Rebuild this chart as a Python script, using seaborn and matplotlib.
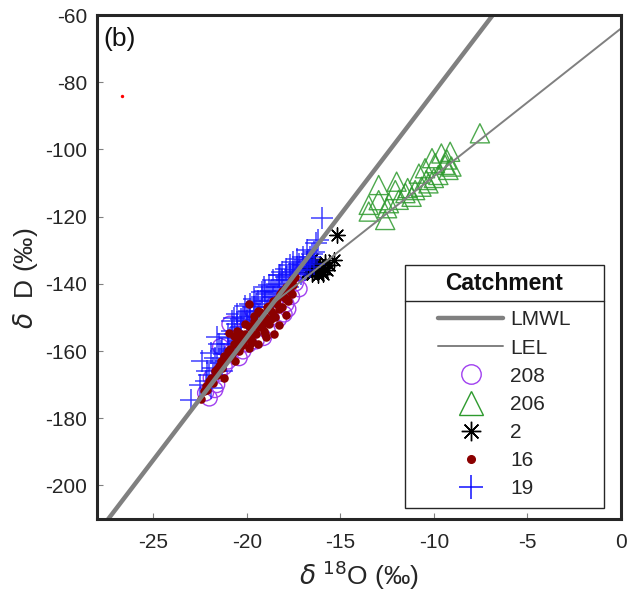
import matplotlib
matplotlib.use('Agg')
import matplotlib.pyplot as plt
import numpy as np
import pandas as pd
import seaborn as sns
from matplotlib.lines import Line2D
from matplotlib.patches import Rectangle

# ---- values ----
# catchment 208 (open circles)
x_208 = [-22.2, -21.9, -21.6, -21.46, -21.2, -21.4, -21.0, -20.6, -20.2, -20.0, -19.7, -19.5,
         -19.3, -18.9, -18.7, -18.5, -18.0, -17.9, -17.6, -17.4, -17.1, -16.9,
         -22.0, -21.7, -20.8, -20.4, -19.9, -19.1, -18.3, -17.8, -17.2, -20.9]
y_208 = [-172.5, -168.0, -170.0, -166.6, -164.7, -158.7, -163.0, -156.0, -160.0, -153.0, -147.8, -157.0,
         -151.0, -154.0, -150.0, -146.0, -149.0, -146.0, -143.8, -139.8, -137.0, -135.0,
         -174.0, -171.5, -160.0, -162.0, -158.0, -156.0, -150.5, -147.5, -141.5, -152.0]

# catchment 206 (open triangles)
x_206 = [-7.54, -12.95, -11.99, -13.48, -12.5, -12.6, -13.48, -11.52, -10.8, -10.1, -9.6, -9.13,
         -9.4, -9.22, -9.76, -10.4, -10.66, -11.0, -11.19, -11.88, -12.06, -10.47, -9.94, -9.06,
         -12.95, -12.4, -10.29, -9.3, -11.4, -10.0]
y_206 = [-95.2, -110.6, -109.6, -116.5, -117.5, -121.0, -118.5, -113.0, -107.2, -102.6, -101.2, -100.7,
         -104.6, -106.1, -107.6, -109.1, -111.1, -112.1, -114.1, -115.0, -112.1, -105.6, -104.1, -105.1,
         -115.1, -116.0, -110.1, -103.0, -111.5, -108.5]

# catchment 2 (asterisks)
x_2 = [-16.8, -16.6, -16.5, -16.4, -16.3, -16.2, -16.1, -16.0, -15.9, -15.8, -15.7, -16.5,
       -16.2, -15.6, -15.34, -15.18, -16.7, -15.9]
y_2 = [-136.5, -135.0, -137.0, -134.5, -136.0, -135.5, -134.0, -136.5, -135.0, -133.5, -136.0, -132.5,
       -137.5, -134.5, -132.9, -125.5, -134.0, -137.0]

# catchment 16 (dots)
x_16 = [-22.45, -22.3, -22.2, -22.0, -21.9, -21.7, -21.6, -21.4, -21.3, -21.1, -21.0, -20.93,
        -20.8, -20.7, -20.5, -20.4, -20.3, -20.2, -20.0, -19.9, -19.8, -19.77, -19.7, -19.6,
        -19.5, -19.4, -19.3, -19.2, -19.1, -19.0, -18.97, -18.9, -18.8, -18.7, -18.6, -18.53,
        -18.5, -18.4, -18.27, -18.2, -18.1, -18.0, -17.9, -17.9, -17.8, -17.7, -17.6, -17.5,
        -17.4, -19.9, -20.6, -21.2, -19.0, -20.1, -19.4,
        -22.1, -21.8, -21.5, -21.2, -20.9, -20.7, -20.5, -20.3, -20.1, -19.9, -19.7, -19.6,
        -19.4, -19.3, -19.1, -18.9, -18.8, -18.6, -18.4, -18.3, -18.1, -17.9, -17.7, -17.6,
        -17.5, -19.8, -20.4, -19.2, -18.7, -21.6]
y_16 = [-174.3, -172.0, -170.5, -169.0, -168.0, -166.0, -167.0, -163.0, -165.0, -162.0, -160.0, -154.7,
        -161.0, -158.0, -157.0, -160.0, -155.0, -158.0, -156.0, -159.0, -153.0, -157.7, -157.0, -151.0,
        -155.0, -158.0, -152.0, -149.0, -154.0, -150.0, -155.7, -147.0, -152.0, -148.0, -145.0, -154.8,
        -150.0, -146.0, -152.3, -143.0, -147.0, -144.0, -141.0, -149.3, -145.0, -142.0, -139.0, -140.5,
        -138.0, -146.0, -163.0, -168.0, -155.0, -152.0, -148.0,
        -171.5, -169.5, -164.5, -161.5, -159.5, -155.5, -154.0, -158.5, -155.0, -152.5, -154.5, -149.5,
        -153.0, -148.5, -150.5, -151.0, -146.5, -149.0, -144.5, -147.5, -142.0, -144.5, -140.0, -143.0,
        -138.5, -156.5, -156.5, -152.5, -150.5, -165.5]

# catchment 19 (plus signs)
x_19 = [-22.96, -22.4, -22.2, -22.0, -21.9, -21.8, -21.6, -21.6, -21.4, -21.3, -21.2, -21.1,
        -21.0, -20.9, -20.66, -20.8, -20.6, -20.6, -20.5, -20.4, -20.3, -20.2, -20.1, -20.0,
        -19.9, -19.8, -19.7, -19.6, -19.5, -19.4, -19.3, -19.2, -19.1, -19.0, -18.9, -18.8,
        -18.7, -18.6, -18.4, -18.3, -18.2, -18.1, -18.0, -17.9, -17.8, -17.7, -17.6, -17.5,
        -17.4, -17.3, -17.1, -17.0, -16.9, -16.8, -16.7, -16.6, -16.5, -16.4, -16.3, -15.98,
        -22.5, -22.1, -21.7, -21.5, -21.3, -21.0, -20.8, -20.5, -20.3, -20.0, -19.8, -19.6,
        -19.4, -19.2, -19.0, -18.8, -18.6, -18.5, -18.3, -18.1, -17.9, -17.7, -17.5, -17.3,
        -17.2, -17.0, -16.8, -16.6, -16.4, -16.2, -21.9]
y_19 = [-174.6, -163.0, -169.0, -167.0, -171.0, -165.0, -163.5, -155.7, -160.0, -166.0, -161.0, -163.0,
        -158.0, -156.0, -150.2, -154.0, -155.0, -159.0, -152.0, -157.0, -153.0, -150.0, -146.5, -151.0,
        -148.0, -149.5, -152.0, -147.0, -146.0, -150.0, -148.0, -144.0, -141.0, -145.0, -143.0, -147.0,
        -142.0, -144.0, -141.0, -140.0, -137.5, -139.0, -141.0, -138.0, -141.0, -137.0, -139.0, -133.5,
        -136.0, -135.0, -137.0, -134.5, -136.0, -130.0, -133.0, -135.0, -131.0, -134.0, -128.0, -120.4,
        -170.0, -166.0, -162.0, -158.0, -159.5, -155.0, -151.0, -149.0, -150.5, -148.5, -146.0, -144.5,
        -145.0, -142.5, -142.0, -140.5, -139.0, -142.5, -137.5, -136.5, -135.5, -134.5, -136.5, -132.5,
        -134.0, -132.0, -133.5, -132.0, -130.5, -127.0, -160.5]

# single outlier point (red)
x_out = [-26.69]
y_out = [-84.1]

# water lines: dD = slope * d18O + intercept
lmwl_slope, lmwl_intercept = 7.3, -10.0
lel_slope, lel_intercept = 4.4, -64.0
lmwl_x = [-28.0, 0.0]
lel_x = [-18.6, 0.0]

x_ticks = [-25, -20, -15, -10, -5, 0]
y_ticks = [-200, -180, -160, -140, -120, -100, -80, -60]
legend_labels = ['LMWL', 'LEL', '208', '206', '2', '16', '19']

# ---- style ----
sns.set_style('white')
plt.rcParams['font.family'] = ['Liberation Sans', 'DejaVu Sans']
plt.rcParams['mathtext.fontset'] = 'dejavusans'
plt.rcParams['axes.unicode_minus'] = False

c_208 = '#a040f0'
c_206 = '#2e9a2e'
c_2 = '#000000'
c_16 = '#8b0000'
c_19 = '#1010ff'
c_line = '#808080'

fig = plt.figure(figsize=(6.29, 5.96), dpi=100)
ax = fig.add_axes([0.1542, 0.1292, 0.8331, 0.8456])

# lines
lmwl_df = pd.DataFrame({'x': lmwl_x, 'y': [lmwl_slope * v + lmwl_intercept for v in lmwl_x]})
lel_df = pd.DataFrame({'x': lel_x, 'y': [lel_slope * v + lel_intercept for v in lel_x]})
sns.lineplot(data=lmwl_df, x='x', y='y', ax=ax, color=c_line, lw=3.2, sort=False)
sns.lineplot(data=lel_df, x='x', y='y', ax=ax, color=c_line, lw=1.4, sort=False)

# scatter groups
sns.scatterplot(x=x_208, y=y_208, ax=ax, marker='o', s=130, color=c_208,
                facecolor='none', edgecolor=c_208, linewidth=1.0, legend=False)
sns.scatterplot(x=x_206, y=y_206, ax=ax, marker='^', s=190, color=c_206,
                facecolor='none', edgecolor=c_206, linewidth=1.0, alpha=0.85, legend=False)
sns.scatterplot(x=x_2, y=y_2, ax=ax, marker=(8, 2, 0), s=120, color=c_2, linewidth=1.0, legend=False)
sns.scatterplot(x=x_19, y=y_19, ax=ax, marker='+', s=260, color=c_19, linewidth=1.1, alpha=0.8, legend=False)
sns.scatterplot(x=x_16, y=y_16, ax=ax, marker='o', s=38, color=c_16, linewidth=0, legend=False)
sns.scatterplot(x=x_out, y=y_out, ax=ax, marker='o', s=6, color='#ff0000', linewidth=0, legend=False)

ax.set_xlim(-28, 0)
ax.set_ylim(-210, -60)
ax.set_xticks(x_ticks)
ax.set_yticks(y_ticks)
ax.tick_params(direction='in', length=4, width=0.8, color='#808080', labelcolor='#262626',
               labelsize=15, bottom=True, left=True)
ax.tick_params(axis='x', pad=10)
ax.tick_params(axis='y', pad=7)
for sp in ax.spines.values():
    sp.set_linewidth(2.2)
    sp.set_color('#262626')

ax.set_xlabel(r'$\delta$ $^{18}$O (‰)', fontsize=19, color='#262626', labelpad=5)
ax.set_ylabel(r'$\delta$  D (‰)', fontsize=19, color='#262626')
ax.yaxis.set_label_coords(-0.108, 0.478)
ax.text(0.012, 0.976, '(b)', transform=ax.transAxes, fontsize=19, va='top', ha='left', color='#111111')

# legend
handles = [
    Line2D([], [], color=c_line, lw=3.2),
    Line2D([], [], color=c_line, lw=1.4),
    Line2D([], [], ls='none', marker='o', ms=14, mfc='none', mec=c_208, mew=1.0),
    Line2D([], [], ls='none', marker='^', ms=17, mfc='none', mec=c_206, mew=1.0),
    Line2D([], [], ls='none', marker=(8, 2, 0), ms=14, color=c_2, mew=1.0),
    Line2D([], [], ls='none', marker='o', ms=5.5, mfc=c_16, mec=c_16),
    Line2D([], [], ls='none', marker='+', ms=17, color=c_19, mew=1.1),
]
leg = fig.legend(handles, legend_labels, loc='upper left', bbox_to_anchor=(428 / 629, 1 - 300 / 596),
                 bbox_transform=fig.transFigure, frameon=False, fontsize=15, borderpad=0,
                 handlelength=3.1, handletextpad=0.35, labelspacing=0.44)

# legend frame and title, drawn like the original
fig.add_artist(Rectangle((405 / 629, 1 - 508 / 596), (604 - 405) / 629, (508 - 265) / 596,
                         transform=fig.transFigure, fill=False, ec='#262626', lw=1.0))
fig.add_artist(Line2D([405 / 629, 604 / 629], [1 - 301 / 596, 1 - 301 / 596],
                      transform=fig.transFigure, color='#262626', lw=1.0))
fig.text(504.5 / 629, 1 - 283 / 596, 'Catchment', fontsize=16.5, fontweight='bold',
         ha='center', va='center', color='#111111')

fig.savefig('out.png', dpi=100)
